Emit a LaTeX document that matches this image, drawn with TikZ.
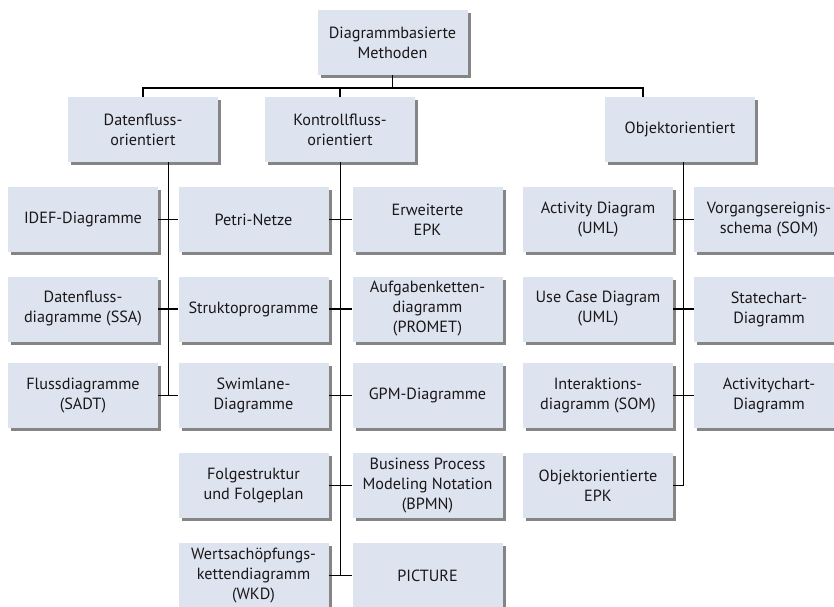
\documentclass[tikz,border=0pt]{standalone}
\usepackage{fontspec}
\setmainfont{PT Sans}
\usetikzlibrary{shadows}
\definecolor{boxfill}{HTML}{DDE4F0}
\definecolor{boxshade}{HTML}{858585}
\definecolor{inktext}{HTML}{1A1718}
\begin{document}
\begin{tikzpicture}[x=1pt,y=-1pt,
  box/.style={rectangle, fill=boxfill, minimum width=150pt, minimum height=65pt,
    inner sep=2pt, align=center, text=inktext,
    font=\fontsize{16.2}{20}\selectfont,
    general shadow={fill=boxshade, shadow xshift=3pt, shadow yshift=-3pt}},
  link/.style={draw=black, line width=1.8pt}]
\useasboundingbox (0,0) rectangle (834,606);
\clip (0,0) rectangle (834,606);

% root and the three branches
\node[box] (root) at (392.5,42.5) {Diagrammbasierte\\Methoden};
\node[box] (dat) at (143,129.5) {Datenfluss-\\orientiert};
\node[box] (kon) at (340,129.5) {Kontrollfluss-\\orientiert};
\node[box] (obj) at (680,129.5) {Objektorientiert};

% column 1
\node[box] (a1) at (83,219.5) {IDEF-Diagramme};
\node[box] (a2) at (83,309) {Datenfluss-\\diagramme (SSA)};
\node[box] (a3) at (83,395.5) {Flussdiagramme\\(SADT)};
% column 2
\node[box] (b1) at (253.5,219.5) {Petri-Netze};
\node[box] (b2) at (253.5,309) {Struktoprogramme};
\node[box] (b3) at (253.5,395.5) {Swimlane-\\Diagramme};
\node[box] (b4) at (253.5,485.5) {Folgestruktur\\und Folgeplan};
\node[box] (b5) at (253.5,575.5) {Wertsachöpfungs-\\kettendiagramm\\(WKD)};
% column 3
\node[box] (c1) at (427.5,219.5) {Erweiterte\\EPK};
\node[box] (c2) at (427.5,309) {Aufgabenketten-\\diagramm\\(PROMET)};
\node[box] (c3) at (427.5,395.5) {GPM-Diagramme};
\node[box] (c4) at (427.5,485.5) {Business Process\\Modeling Notation\\(BPMN)};
\node[box] (c5) at (427.5,575.5) {PICTURE};
% column 4
\node[box] (d1) at (598,219.5) {Activity Diagram\\(UML)};
\node[box] (d2) at (598,309) {Use Case Diagram\\(UML)};
\node[box] (d3) at (598,395.5) {Interaktions-\\diagramm (SOM)};
\node[box] (d4) at (598,485.5) {Objektorientierte\\EPK};
% column 5
\node[box] (e1) at (769,219.5) {Vorgangsereignis-\\schema (SOM)};
\node[box] (e2) at (769,309) {Statechart-\\Diagramm};
\node[box] (e3) at (769,395.5) {Activitychart-\\Diagramm};

% bus below the root
\coordinate (bus) at (0,88);
\coordinate (objin) at (643,97);
\draw[link] (root.south) -- (root.south |- bus);
\draw[link] (dat.north) -- (dat.north |- bus) -- (bus -| objin) -- (objin);
\draw[link] (kon.north) -- (kon.north |- bus);

% trunks
\coordinate (dtop) at (168.5,162);
\coordinate (otop) at (683.5,162);
\draw[link] (dtop) -- (dtop |- a3.east);
\draw[link] ([xshift=0.5pt]kon.south) -- ([xshift=0.5pt]kon.south |- c5.west);
\draw[link] (otop) -- (otop |- d4.east);

% branches
\foreach \l/\r in {a1/b1, a2/b2, a3/b3, b1/c1, b2/c2, b3/c3, b4/c4, b5/c5, d1/e1, d2/e2, d3/e3}
  \draw[link] (\l.east) -- (\r.west);
\draw[link] (d4.east) -- (d4.east -| otop);
\end{tikzpicture}
\end{document}
